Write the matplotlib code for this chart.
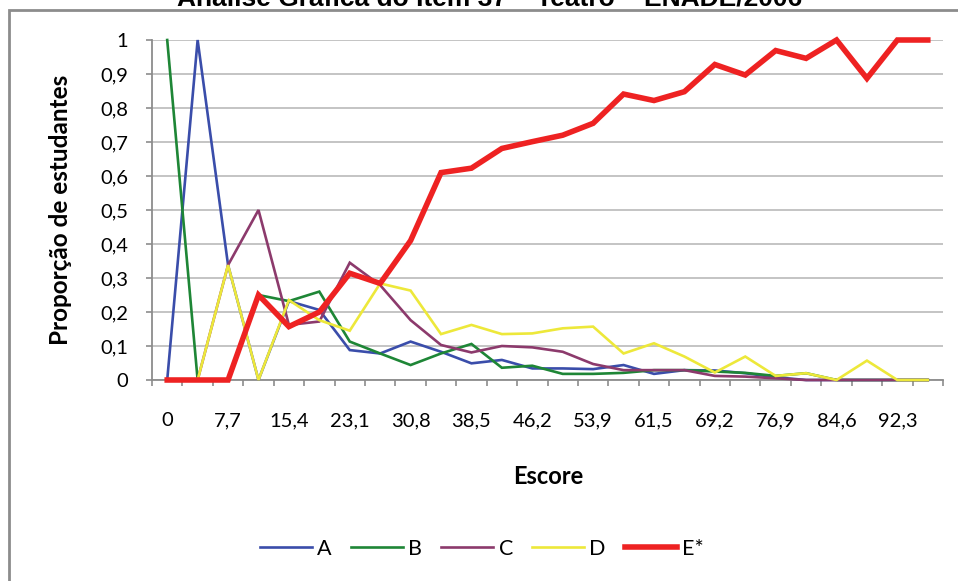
import matplotlib
matplotlib.use("Agg")
import matplotlib.pyplot as plt
from matplotlib.patches import Rectangle

# ---- data ----
categories = ["0", "3,8", "7,7", "11,5", "15,4", "19,2", "23,1", "26,9", "30,8", "34,6",
              "38,5", "42,3", "46,2", "50", "53,9", "57,7", "61,5", "65,4", "69,2", "73,1",
              "76,9", "80,8", "84,6", "88,5", "92,3", "96,2"]
serie_A = [0, 1.0, 0.338, 0, 0.232, 0.206, 0.088, 0.078, 0.113, 0.083,
           0.049, 0.059, 0.034, 0.034, 0.032, 0.044, 0.018, 0.029, 0.028, 0.02,
           0.008, 0, 0, 0, 0, 0]
serie_B = [1.0, 0, 0, 0.25, 0.232, 0.26, 0.113, 0.078, 0.044, 0.078,
           0.106, 0.036, 0.042, 0.018, 0.018, 0.021, 0.029, 0.029, 0.025, 0.021,
           0.012, 0.02, 0, 0, 0, 0]
serie_C = [0, 0, 0.338, 0.5, 0.162, 0.172, 0.345, 0.279, 0.176, 0.103,
           0.081, 0.1, 0.096, 0.083, 0.047, 0.029, 0.029, 0.029, 0.012, 0.01,
           0.005, 0, 0, 0, 0, 0]
serie_D = [0, 0, 0.338, 0, 0.235, 0.176, 0.145, 0.284, 0.263, 0.135,
           0.162, 0.135, 0.137, 0.152, 0.157, 0.078, 0.108, 0.069, 0.022, 0.069,
           0.012, 0.02, 0, 0.057, 0, 0]
serie_E = [0, 0, 0, 0.25, 0.157, 0.20, 0.314, 0.284, 0.41, 0.61,
           0.623, 0.681, 0.701, 0.72, 0.755, 0.841, 0.822, 0.848, 0.928, 0.897,
           0.969, 0.946, 1.0, 0.887, 1.0, 1.0]
series_names = ["A", "B", "C", "D", "E*"]
y_ticks = [0, 0.1, 0.2, 0.3, 0.4, 0.5, 0.6, 0.7, 0.8, 0.9, 1.0]
y_ticklabels = ["0", "0,1", "0,2", "0,3", "0,4", "0,5", "0,6", "0,7", "0,8", "0,9", "1"]
title = "Análise Gráfica do Item 37 – Teatro – ENADE/2006"

colors = ["#3A4DAA", "#1E8636", "#8C3A6C", "#EDE83A", "#EE2222"]
widths = [1.9, 1.9, 1.9, 1.9, 4.0]

W, H = 958, 581
fig = plt.figure(figsize=(W / 100, H / 100), dpi=100)
plt.rcParams['font.family'] = ['Lato', 'DejaVu Sans']

# outer chart border (clipped at right/bottom, like the reference)
fig.patches.append(Rectangle((9 / W, -0.1), 1.2, 1.1 - 10 / H,
                             transform=fig.transFigure, fill=False,
                             edgecolor="#8C8C8C", linewidth=2.0, zorder=0))
fig.text(490 / W, 1 - 5 / H, title, ha="center", va="baseline",
         fontsize=19, fontweight="bold", family=["Liberation Sans", "DejaVu Sans"])

left, right, top, bottom = 152, 943, 40, 380
ax = fig.add_axes([left / W, 1 - bottom / H, (right - left) / W, (bottom - top) / H])

x = list(range(len(categories)))
for vals, name, c, lw in zip([serie_A, serie_B, serie_C, serie_D, serie_E],
                             series_names, colors, widths):
    ax.plot(x, vals, color=c, lw=lw, label=name, solid_joinstyle="miter",
            clip_on=False, zorder=3)

ax.set_xlim(-0.5, len(categories) - 0.5)
ax.set_ylim(0, 1)
ax.set_yticks(y_ticks)
ax.set_yticklabels(y_ticklabels)
ax.set_xticks(x)
ax.set_xticklabels([c if i % 2 == 0 else "" for i, c in enumerate(categories)])
ax.set_xticks([i - 0.5 for i in range(len(categories) + 1)], minor=True)

ax.grid(axis="y", color="#BFBFBF", lw=1.3, zorder=0)
ax.set_axisbelow(True)
for s in ["top", "right"]:
    ax.spines[s].set_visible(False)
for s in ["left", "bottom"]:
    ax.spines[s].set_color("#8C8C8C")
    ax.spines[s].set_linewidth(1.3)

ax.tick_params(axis="y", length=4, width=1.2, color="#8C8C8C", pad=13, labelsize=14.5)
ax.tick_params(axis="x", which="major", length=0, pad=23, labelsize=14.5)
ax.tick_params(axis="x", which="minor", length=4.5, width=1.2, color="#8C8C8C")

ax.set_ylabel("Proporção de estudantes", fontsize=17.5, fontweight="bold")
ax.yaxis.set_label_coords((72 - left) / (right - left), 0.5)
ax.set_xlabel("Escore", fontsize=17, fontweight="bold")
ax.xaxis.set_label_coords((548 - left) / (right - left), -(465 - bottom) / (bottom - top))

leg = fig.legend(loc="center", bbox_to_anchor=(482 / W, 1 - 549 / H), ncol=5,
                 frameon=False, fontsize=15.5, handlelength=2.4, handletextpad=0.25,
                 columnspacing=0.9)

fig.savefig("out.png", dpi=100)
